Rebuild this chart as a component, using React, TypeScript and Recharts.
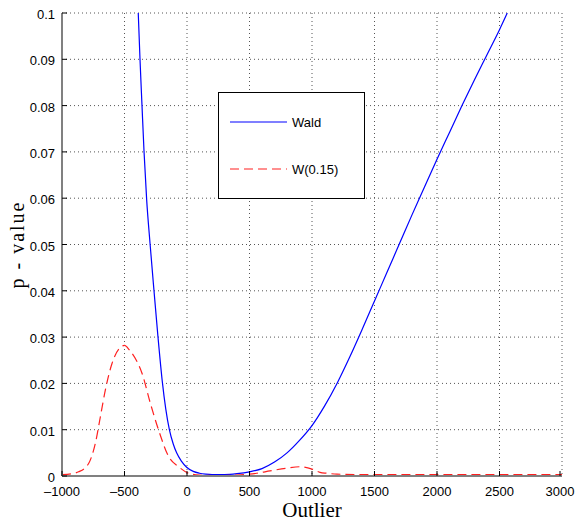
import { CartesianGrid, Line, LineChart, XAxis, YAxis } from "recharts";

type Pt = { x: number; y: number };

const xTicks = [-1000, -500, 0, 500, 1000, 1500, 2000, 2500, 3000];
const yTicks = [0, 0.01, 0.02, 0.03, 0.04, 0.05, 0.06, 0.07, 0.08, 0.09, 0.1];

// Wald p-value vs outlier size
const waldX = [
  -390, -376, -360, -344, -323, -295, -264, -232, -198, -170, -141, -110, -83,
  -45, -3, 50, 100, 150, 200, 300, 400, 500, 600, 700, 800, 900, 1000, 1100,
  1200, 1300, 1400, 1500, 1600, 1700, 1800, 1900, 2000, 2100, 2200, 2300, 2400,
  2500, 2562,
];
const waldY = [
  0.1, 0.09, 0.08, 0.0702, 0.0598, 0.05, 0.04, 0.03, 0.0205, 0.0145, 0.01,
  0.0069, 0.005, 0.0032, 0.0019, 0.001, 0.0006, 0.0004, 0.0003, 0.0003,
  0.0005, 0.0009, 0.0016, 0.003, 0.005, 0.0077, 0.0109, 0.0151, 0.02, 0.0256,
  0.0316, 0.0378, 0.044, 0.0502, 0.0564, 0.0624, 0.0684, 0.0742, 0.08,
  0.0856, 0.091, 0.0964, 0.1,
];

// W(0.15) p-value
const w15X = [
  -1000, -900, -867, -787, -733, -693, -653, -600, -540, -500, -460, -440,
  -360, -293, -227, -147, -67, 13, 100, 200, 300, 400, 557, 664, 800, 904,
  1000, 1064, 1117, 1200, 1500, 2000, 2500, 3000,
];
const w15Y = [
  0.0003, 0.0006, 0.0009, 0.0027, 0.0071, 0.0128, 0.0186, 0.0243, 0.0276,
  0.0282, 0.0272, 0.0265, 0.0222, 0.0157, 0.0099, 0.0042, 0.002, 0.0006,
  0.0002, 0.0001, 0.0001, 0.0002, 0.0006, 0.0011, 0.0017, 0.002, 0.0015,
  0.0008, 0.0006, 0.0004, 0.0003, 0.0003, 0.0003, 0.0003,
];

const waldData: Pt[] = waldX.map((x, i) => ({ x, y: waldY[i] }));
const w15Data: Pt[] = w15X.map((x, i) => ({ x, y: w15Y[i] }));

const tickFont = "'Liberation Sans', Arial, sans-serif";
const serifFont = "'Liberation Serif', 'DejaVu Serif', serif";

const YTick = (props: any) => {
  const { x, y, payload } = props;
  return (
    <g>
      <line x1={x + 7} x2={x + 12} y1={y} y2={y} stroke="#000" />
      <text x={x} y={y} dy={6} textAnchor="end" fontSize={13} fontFamily={tickFont} fill="#000">
        {String(payload.value)}
      </text>
    </g>
  );
};

const XTick = (props: any) => {
  const { x, y, payload } = props;
  return (
    <g>
      <line x1={x} x2={x} y1={y - 8} y2={y - 13} stroke="#000" />
      <text x={x} y={y} dy={12} textAnchor="middle" fontSize={13} fontFamily={tickFont} fill="#000">
        {String(payload.value).replace("-", "\u2013")}
      </text>
    </g>
  );
};

const LegendBox = () => (
  <div
    style={{
      position: "absolute",
      left: 218,
      top: 92,
      width: 147,
      height: 107,
      border: "1.5px solid #000",
      background: "#fff",
      boxSizing: "border-box",
    }}
  >
    <svg width={144} height={104} style={{ display: "block" }}>
      <line x1={11} x2={68} y1={29} y2={29} stroke="#0000ff" strokeWidth={1.2} />
      <text x={73} y={34} fontSize={13} fontFamily={tickFont} fill="#000">
        Wald
      </text>
      <line x1={11} x2={68} y1={76} y2={76} stroke="#ff2020" strokeWidth={1.2} strokeDasharray="9 5" />
      <text x={73} y={81} fontSize={13} fontFamily={tickFont} fill="#000">
        W(0.15)
      </text>
    </svg>
  </div>
);

export default function App() {
  return (
    <div style={{ position: "absolute", left: 0, top: 0, width: 576, height: 521, background: "#fff" }}>
      <LineChart width={576} height={521} margin={{ top: 13, right: 14, bottom: 15, left: 2 }}>
        <CartesianGrid strokeDasharray="1 3" stroke="#555" />
        <XAxis
          type="number"
          dataKey="x"
          domain={[-1000, 3000]}
          ticks={xTicks}
          allowDataOverflow
          height={30}
          tickSize={0}
          tickMargin={8}
          tick={<XTick />}
          axisLine={{ stroke: "#808080", strokeWidth: 2 }}
          tickLine={false}
          label={{
            value: "Outlier",
            position: "insideBottom",
            offset: -11,
            style: { fontFamily: serifFont, fontSize: 21, fill: "#000" },
          }}
        />
        <YAxis
          type="number"
          domain={[0, 0.1]}
          ticks={yTicks}
          allowDataOverflow
          width={60}
          tickSize={0}
          tickMargin={7}
          tick={<YTick />}
          axisLine={{ stroke: "#808080", strokeWidth: 2 }}
          tickLine={false}
          label={{
            value: "p - value",
            position: "insideLeft",
            angle: -90,
            offset: 15,
            style: {
              textAnchor: "middle",
              fontFamily: serifFont,
              fontSize: 20,
              letterSpacing: 2,
              fill: "#000",
            },
          }}
        />
        <Line
          data={waldData}
          dataKey="y"
          name="Wald"
          type="monotone"
          stroke="#0000ff"
          strokeWidth={1.2}
          dot={false}
          isAnimationActive={false}
        />
        <Line
          data={w15Data}
          dataKey="y"
          name="W(0.15)"
          type="monotone"
          stroke="#ff2020"
          strokeWidth={1.2}
          strokeDasharray="9 5"
          dot={false}
          isAnimationActive={false}
        />
      </LineChart>
      <LegendBox />
    </div>
  );
}
